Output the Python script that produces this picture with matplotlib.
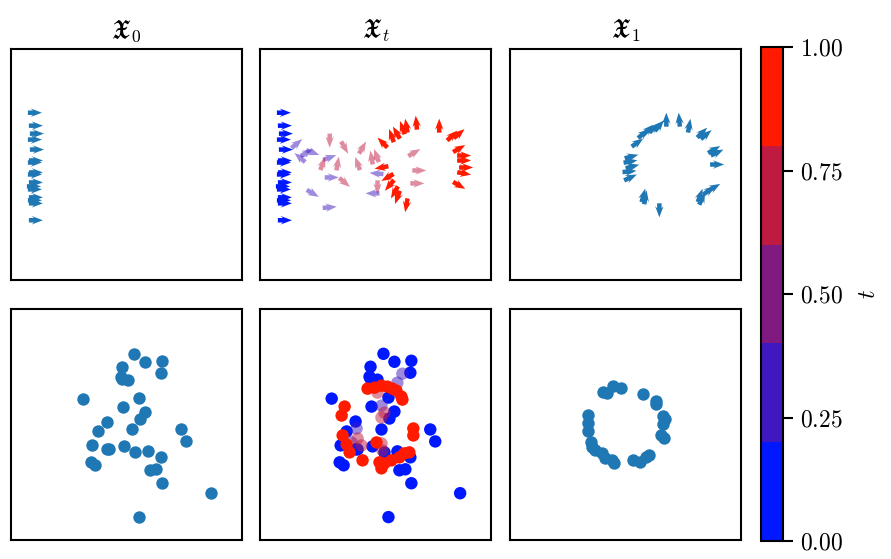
import numpy as np
import matplotlib
matplotlib.use("Agg")
import matplotlib.pyplot as plt
from matplotlib.colors import LinearSegmentedColormap, Normalize
from matplotlib.cm import ScalarMappable

plt.rcParams['mathtext.fontset'] = 'cm'
plt.rcParams['font.family'] = ['cmr10', 'DejaVu Serif']

# ---- top row: particle positions (axes px units, origin bottom-left) + heading in degrees
x0_arrow_x   = [24, 25, 26, 24, 26, 25, 24, 25, 24, 25, 23, 24, 25, 24, 25, 25]
x0_arrow_y   = [168, 155, 147, 141, 131, 120, 118, 108, 106, 98, 94, 91, 83, 80, 77, 60]
x0_arrow_ang = [0] * 16

x1_arrow_x   = [122, 121, 123, 120, 121, 128, 134, 139, 145, 150, 157, 170, 180,
                193, 197, 205, 208, 208, 205, 200, 193, 191, 150, 136, 134]
x1_arrow_y   = [124, 119, 114, 109, 103, 138, 147, 151, 153, 155, 161, 161, 155,
                148, 146, 131, 128, 116, 93, 90, 82, 85, 70, 83, 85]
x1_arrow_ang = [15, 10, 15, 5, 25, 35, 40, 45, 45, 50, 90, 95, 80,
                45, 40, 30, 25, 0, 30, 35, 65, 70, 270, 80, 75]

# interpolated trajectory, t = 1/3, 2/3, 1
xt13_arrow_x   = [37, 40, 47, 53, 70, 72, 53, 70, 113, 117]
xt13_arrow_y   = [137, 123, 128, 128, 123, 103, 87, 73, 87, 107]
xt13_arrow_ang = [40, 140, 30, -20, 20, 0, -30, 5, 180, 175]

xt23_arrow_x   = [70, 85, 103, 78, 63, 98, 85, 112, 118, 155, 160, 158, 117]
xt23_arrow_y   = [140, 133, 133, 117, 117, 117, 98, 123, 93, 128, 110, 97, 125]
xt23_arrow_ang = [270, 300, 60, 80, 70, 110, 320, 100, 270, 30, 0, 0, 110]

xt1_arrow_x   = [123, 132, 137, 143, 147, 157, 180, 193, 200, 200, 205, 205, 207,
                 205, 200, 122, 128, 130, 135, 138, 147]
xt1_arrow_y   = [138, 145, 148, 153, 155, 158, 155, 145, 147, 132, 125, 120, 113,
                 107, 95, 113, 103, 95, 88, 83, 75]
xt1_arrow_ang = [135, 110, 120, 110, 100, 95, 90, 45, 40, 30, 0, 0, 0,
                 -10, -30, 190, 210, 230, 240, 250, 260]

# ---- bottom row: point clouds
x0_pts_x = [124, 135, 152, 151, 111, 110, 118, 111, 72, 129, 112, 135, 130, 96, 87, 122,
            171, 176, 81, 96, 98, 113, 125, 138, 151, 80, 84, 140, 146, 152, 201, 129]
x0_pts_y = [187, 179, 180, 168, 174, 164, 161, 162, 142, 143, 134, 129, 122, 119, 109, 111,
            111, 99, 95, 91, 91, 94, 88, 89, 83, 78, 75, 70, 71, 57, 47, 23]

x1_pts_x = [93, 97, 103, 111, 134, 147, 147, 154, 156, 154, 152, 155, 140,
            137, 131, 124, 104, 102, 95, 92, 85, 81, 78, 78, 78, 82]
x1_pts_y = [149, 148, 155, 153, 147, 140, 137, 125, 122, 117, 105, 102, 85,
            83, 78, 80, 77, 80, 82, 87, 90, 98, 109, 118, 126, 93]

xt13_pts_x = [143, 138, 122, 97, 92]
xt13_pts_y = [167, 158, 135, 112, 98]
xt23_pts_x = [118, 125, 122, 98, 122, 123, 102]
xt23_pts_y = [148, 128, 123, 102, 97, 90, 95]
xt1_pts_x = [108, 115, 122, 128, 133, 137, 142, 143, 85, 82, 83, 87, 90, 103,
             117, 120, 122, 125, 132, 140, 145, 150, 154, 154]
xt1_pts_y = [152, 153, 155, 154, 152, 150, 144, 141, 134, 125, 105, 96, 88, 80,
             98, 78, 72, 77, 80, 83, 87, 88, 112, 105]

T_LEVELS = [0.0, 1/3, 2/3, 1.0]
CBAR_TICKS = [0.0, 0.25, 0.5, 0.75, 1.0]
TITLES = [r'$\mathfrak{X}_0$', r'$\mathfrak{X}_t$', r'$\mathfrak{X}_1$']

W, H, DPI = 891, 559, 100
BOX = 231                    # axes side in px
COL_LEFT = [11, 260, 510]    # px
ROW_BOTTOM = [280, 540]      # px from top
LIM = 232

cmap = LinearSegmentedColormap.from_list('bluered', ['#0018ff', '#ff1a00'], N=5)
norm = Normalize(0, 1)


def make_ax(fig, col, row):
    ax = fig.add_axes([COL_LEFT[col] / W, (H - ROW_BOTTOM[row]) / H, BOX / W, BOX / H])
    ax.set_xlim(0, LIM); ax.set_ylim(0, LIM)
    ax.set_xticks([]); ax.set_yticks([])
    for s in ax.spines.values():
        s.set_linewidth(1.5)
    return ax


def arrows(ax, x, y, ang, color, alpha=1.0):
    a = np.deg2rad(np.asarray(ang, dtype=float))
    ax.quiver(x, y, np.cos(a), np.sin(a), color=color, alpha=alpha, pivot='middle',
              units='inches', width=0.045, headwidth=1.9, headlength=2.5, headaxislength=2.0,
              scale_units='inches', scale=1 / 0.14)


def main():
    fig = plt.figure(figsize=(W / DPI, H / DPI), dpi=DPI)

    axs = [[make_ax(fig, c, r) for c in range(3)] for r in range(2)]
    for c in range(3):
        axs[0][c].set_title(TITLES[c], fontsize=18, pad=8)

    # top row - quivers
    arrows(axs[0][0], x0_arrow_x, x0_arrow_y, x0_arrow_ang, 'C0')
    arrows(axs[0][2], x1_arrow_x, x1_arrow_y, x1_arrow_ang, 'C0')
    arrows(axs[0][1], x0_arrow_x, x0_arrow_y, x0_arrow_ang, cmap(norm(T_LEVELS[0])))
    arrows(axs[0][1], xt13_arrow_x, xt13_arrow_y, xt13_arrow_ang, cmap(norm(T_LEVELS[1])), 0.5)
    arrows(axs[0][1], xt23_arrow_x, xt23_arrow_y, xt23_arrow_ang, cmap(norm(T_LEVELS[2])), 0.5)
    arrows(axs[0][1], xt1_arrow_x, xt1_arrow_y, xt1_arrow_ang, cmap(norm(T_LEVELS[3])))

    # bottom row - scatters
    ms = 80
    axs[1][0].scatter(x0_pts_x, x0_pts_y, s=ms, color='C0', linewidths=0)
    axs[1][2].scatter(x1_pts_x, x1_pts_y, s=ms, color='C0', linewidths=0)
    axm = axs[1][1]
    axm.scatter(x0_pts_x, x0_pts_y, s=ms, c=[T_LEVELS[0]] * len(x0_pts_x), cmap=cmap, norm=norm, linewidths=0)
    axm.scatter(xt13_pts_x, xt13_pts_y, s=ms, c=[T_LEVELS[1]] * len(xt13_pts_x), cmap=cmap, norm=norm,
                alpha=0.5, linewidths=0)
    axm.scatter(xt23_pts_x, xt23_pts_y, s=ms, c=[T_LEVELS[2]] * len(xt23_pts_x), cmap=cmap, norm=norm,
                alpha=0.5, linewidths=0)
    axm.scatter(xt1_pts_x, xt1_pts_y, s=ms, c=[T_LEVELS[3]] * len(xt1_pts_x), cmap=cmap, norm=norm, linewidths=0)

    # colorbar
    cax = fig.add_axes([761 / W, (H - 541) / H, 22 / W, 494 / H])
    cb = fig.colorbar(ScalarMappable(norm=norm, cmap=cmap), cax=cax)
    cb.set_ticks(CBAR_TICKS)
    cb.set_ticklabels([f'${v:.2f}$' for v in CBAR_TICKS])
    cb.ax.tick_params(labelsize=17, length=7, width=1.5, pad=5)
    cb.outline.set_linewidth(1.5)
    cb.set_label(r'$t$', fontsize=17, labelpad=11)

    fig.savefig('out.png', dpi=DPI)
    plt.close(fig)


if __name__ == "__main__":
    main()
